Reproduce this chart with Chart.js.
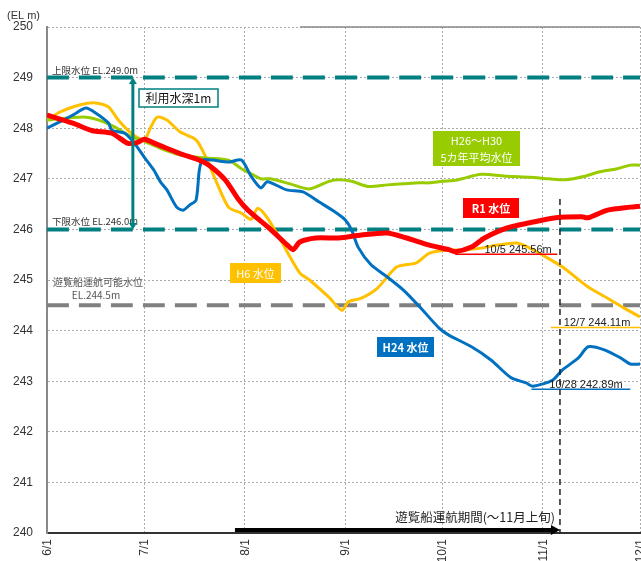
<!DOCTYPE html>
<html lang="ja">
<head>
<meta charset="utf-8">
<title>水位の推移</title>
<script src="https://cdn.jsdelivr.net/npm/chart.js@4.4.1/dist/chart.umd.min.js"></script>
<style>
  html, body { margin: 0; padding: 0; background: #fff; }
</style>
</head>
<body>
<canvas id="levelChart" width="641" height="561"></canvas>
<script>
// x = days counted from 6/1
const monthDays = [0, 30, 61, 92, 122, 153, 183];
const monthLabels = ['6/1', '7/1', '8/1', '9/1', '10/1', '11/1', '12/1'];
const yTicks = [240, 241, 242, 243, 244, 245, 246, 247, 248, 249, 250];

// R1
const r1Days = [0, 8, 14, 20, 25, 28, 30, 34, 41, 47, 50, 55, 59, 62, 69, 74, 76, 78, 83, 90, 97, 105, 111, 118, 124, 126, 131, 135, 142, 149, 157, 165, 167, 173, 180, 183];
const r1Level = [248.26, 248.1, 247.95, 247.9, 247.7, 247.72, 247.78, 247.68, 247.5, 247.37, 247.27, 246.98, 246.6, 246.38, 246.0, 245.7, 245.6, 245.75, 245.83, 245.83, 245.89, 245.93, 245.83, 245.69, 245.6, 245.56, 245.65, 245.83, 246.03, 246.13, 246.23, 246.25, 246.23, 246.38, 246.44, 246.46];

// H26~H30 average
const avgDays = [0, 11, 16, 21, 26, 29, 35, 41, 49, 56, 60, 63, 66, 69, 75, 81, 87, 90, 94, 99, 105, 110, 115, 118, 122, 126, 128, 134, 142, 149, 155, 160, 166, 170, 176, 180, 183];
const avgLevel = [248.16, 248.22, 248.16, 248.02, 247.83, 247.77, 247.6, 247.47, 247.41, 247.37, 247.2, 247.1, 247.0, 247.0, 246.9, 246.8, 246.95, 246.98, 246.95, 246.85, 246.88, 246.9, 246.92, 246.92, 246.95, 246.97, 247.0, 247.09, 247.05, 247.03, 247.0, 246.98, 247.05, 247.13, 247.2, 247.27, 247.27];

// H6
const h6Days = [0, 4, 10, 15, 19, 22, 26, 30, 32, 34, 37, 41, 46, 49, 52, 56, 60, 63, 65, 68, 72, 78, 81, 87, 91, 93, 97, 102, 108, 114, 118, 123, 128, 134, 139, 145, 149, 153, 159, 167, 173, 178, 183];
const h6Level = [248.16, 248.32, 248.46, 248.5, 248.42, 248.16, 247.9, 247.77, 248.02, 248.22, 248.16, 247.93, 247.77, 247.43, 246.98, 246.44, 246.32, 246.2, 246.42, 246.23, 245.8, 245.14, 245.0, 244.66, 244.4, 244.57, 244.64, 244.84, 245.26, 245.34, 245.53, 245.59, 245.59, 245.63, 245.69, 245.73, 245.63, 245.49, 245.26, 244.86, 244.64, 244.45, 244.27];

// H24
const h24Days = [0, 5, 8, 12, 15, 19, 20, 24, 27, 30, 33, 35, 37, 40, 42, 44, 46, 47, 48, 51, 56, 60, 63, 66, 68, 74, 79, 84, 89, 92, 94, 96, 100, 105, 110, 115, 121, 124, 131, 137, 143, 148, 150, 156, 159, 164, 167, 172, 177, 180, 183];
const h24Level = [248.0, 248.16, 248.26, 248.4, 248.3, 248.1, 247.96, 247.9, 247.7, 247.43, 247.17, 246.94, 246.78, 246.44, 246.38, 246.48, 246.58, 247.17, 247.37, 247.37, 247.33, 247.37, 247.05, 246.82, 246.94, 246.78, 246.74, 246.54, 246.34, 246.19, 245.99, 245.65, 245.3, 245.06, 244.8, 244.47, 244.05, 243.91, 243.68, 243.42, 243.08, 242.96, 242.9, 243.02, 243.22, 243.46, 243.68, 243.62, 243.46, 243.34, 243.34];

// reference levels
const upperLimit = 249.0;
const lowerLimit = 246.0;
const boatLimit = 244.5;

// min / value notes
const noteText = ['10/5 245.56m', '12/7 244.11m', '10/28 242.89m'];
const noteLevel = [245.56, 244.11, 242.89];
const noteFrom = [126, 155.5, 149.5];
const noteTo = [157.5, 183, 180];
const noteColor = ['#ff0000', '#ffc000', '#0070c0'];

// boat season (~ early Nov)
const seasonStart = 58;
const seasonEnd = 158.3;

function toPoints(days, levels) {
    return days.map((d, i) => ({ x: d, y: levels[i] }));
}

function flatLine(level) {
    return [{ x: 0, y: level }, { x: 183, y: level }];
}

const JP = '"Noto Sans CJK JP", "Liberation Sans", sans-serif';
const EN = '"Liberation Sans", Arial, sans-serif';

function labelBox(ctx, text, x, y, w, h, bg, font) {
    ctx.fillStyle = bg;
    ctx.fillRect(x, y, w, h);
    ctx.fillStyle = '#fff';
    ctx.font = font;
    ctx.textAlign = 'center';
    ctx.textBaseline = 'middle';
    const lines = text.split('\n');
    const lh = h / lines.length;
    lines.forEach((t, i) => ctx.fillText(t, x + w / 2, y + lh * i + lh / 2 + 1));
}

function arrowHead(ctx, x, y, dir, size) {
    // dir: 'up' | 'down' | 'right'
    ctx.beginPath();
    if (dir === 'up') {
        ctx.moveTo(x, y); ctx.lineTo(x - size, y + size * 1.6); ctx.lineTo(x + size, y + size * 1.6);
    } else if (dir === 'down') {
        ctx.moveTo(x, y); ctx.lineTo(x - size, y - size * 1.6); ctx.lineTo(x + size, y - size * 1.6);
    } else {
        ctx.moveTo(x, y); ctx.lineTo(x - size * 1.8, y - size); ctx.lineTo(x - size * 1.8, y + size);
    }
    ctx.closePath();
    ctx.fill();
}

const notesPlugin = {
    id: 'notes',
    afterDraw(chart) {
        const ctx = chart.ctx;
        const xs = chart.scales.x;
        const ys = chart.scales.y;
        const area = chart.chartArea;
        ctx.save();

        // top frame line
        ctx.strokeStyle = '#888';
        ctx.lineWidth = 1.5;
        ctx.beginPath();
        ctx.moveTo(300, area.top);
        ctx.lineTo(area.right, area.top);
        ctx.stroke();

        // unit
        ctx.fillStyle = '#333';
        ctx.font = '11px ' + EN;
        ctx.textAlign = 'left';
        ctx.textBaseline = 'alphabetic';
        ctx.fillText('(EL m)', 7, 19);

        // x labels, rotated
        ctx.font = '12px ' + EN;
        monthDays.forEach((d, i) => {
            ctx.save();
            ctx.translate(xs.getPixelForValue(d) + 4, area.bottom + 6);
            ctx.rotate(-Math.PI / 2);
            ctx.textAlign = 'right';
            ctx.fillStyle = '#333';
            ctx.fillText(monthLabels[i], 0, 0);
            ctx.restore();
        });

        // reference line captions
        ctx.fillStyle = '#333';
        ctx.font = '9.5px ' + JP;
        ctx.textAlign = 'left';
        ctx.fillText('上限水位 EL.249.0m', 52, ys.getPixelForValue(upperLimit) - 4);
        ctx.fillText('下限水位 EL.246.0m', 52, ys.getPixelForValue(lowerLimit) - 4);
        ctx.fillStyle = '#555';
        ctx.font = '10px ' + JP;
        ctx.textAlign = 'center';
        ctx.fillText('遊覧船運航可能水位', 98, ys.getPixelForValue(boatLimit) - 19);
        ctx.fillText('EL.244.5m', 96, ys.getPixelForValue(boatLimit) - 6);

        // usable depth arrow
        const ax = xs.getPixelForValue(26.5);
        const yTop = ys.getPixelForValue(upperLimit);
        const yBot = ys.getPixelForValue(lowerLimit);
        ctx.strokeStyle = '#008080';
        ctx.fillStyle = '#008080';
        ctx.lineWidth = 3;
        ctx.beginPath();
        ctx.moveTo(ax, yTop + 6);
        ctx.lineTo(ax, yBot - 6);
        ctx.stroke();
        arrowHead(ctx, ax, yTop, 'up', 4);
        arrowHead(ctx, ax, yBot, 'down', 4);

        ctx.fillStyle = '#fff';
        ctx.fillRect(139, 89, 79, 18);
        ctx.strokeStyle = '#008080';
        ctx.lineWidth = 1.5;
        ctx.strokeRect(139, 89, 79, 18);
        ctx.fillStyle = '#111';
        ctx.font = '12px ' + JP;
        ctx.textAlign = 'center';
        ctx.textBaseline = 'middle';
        ctx.fillText('利用水深1m', 178.5, 98.5);

        // series labels
        labelBox(ctx, 'H26～H30\n5カ年平均水位', 433, 131, 87, 35, '#99cc00', '11px ' + JP);
        labelBox(ctx, 'R1 水位', 463, 198, 56, 20, '#ff0000', 'bold 11px ' + JP);
        labelBox(ctx, 'H6 水位', 230, 263, 51, 20, '#ffc000', '11px ' + JP);
        labelBox(ctx, 'H24 水位', 377, 337, 57, 20, '#0070c0', 'bold 11px ' + JP);

        // notes
        ctx.textBaseline = 'alphabetic';
        ctx.textAlign = 'left';
        ctx.font = '11px ' + EN;
        noteText.forEach((t, i) => {
            const ly = ys.getPixelForValue(noteLevel[i]) + 2.5;
            const x0 = xs.getPixelForValue(noteFrom[i]);
            const x1 = xs.getPixelForValue(noteTo[i]);
            ctx.strokeStyle = noteColor[i];
            ctx.lineWidth = 1.5;
            ctx.beginPath();
            ctx.moveTo(x0, ly);
            ctx.lineTo(x1, ly);
            ctx.stroke();
        });
        ctx.fillStyle = '#222';
        ctx.fillText(noteText[0], xs.getPixelForValue(135), ys.getPixelForValue(noteLevel[0]) + 1);
        ctx.fillText(noteText[1], xs.getPixelForValue(159.5), ys.getPixelForValue(noteLevel[1]) + 1);
        ctx.fillText(noteText[2], xs.getPixelForValue(155), ys.getPixelForValue(noteLevel[2]) + 1);

        // boat season marker
        const sx = xs.getPixelForValue(seasonEnd);
        ctx.strokeStyle = '#222';
        ctx.lineWidth = 1.5;
        ctx.setLineDash([6, 4]);
        ctx.beginPath();
        ctx.moveTo(sx, ys.getPixelForValue(246.6));
        ctx.lineTo(sx, area.bottom);
        ctx.stroke();
        ctx.setLineDash([]);

        const by = area.bottom - 3;
        ctx.strokeStyle = '#000';
        ctx.fillStyle = '#000';
        ctx.lineWidth = 4;
        ctx.beginPath();
        ctx.moveTo(xs.getPixelForValue(seasonStart), by);
        ctx.lineTo(sx - 8, by);
        ctx.stroke();
        arrowHead(ctx, sx, by, 'right', 5);

        ctx.font = '12.5px ' + JP;
        ctx.textAlign = 'right';
        ctx.fillStyle = '#222';
        ctx.fillText('遊覧船運航期間(～11月上旬)', sx - 5, by - 8);

        ctx.restore();
    }
};

const teal = '#008080';

new Chart(document.getElementById('levelChart'), {
    type: 'line',
    data: {
        datasets: [
            { label: 'R1', data: toPoints(r1Days, r1Level), borderColor: '#ff0000', borderWidth: 5, order: 0 },
            { label: 'H24', data: toPoints(h24Days, h24Level), borderColor: '#0070c0', borderWidth: 3, order: 1 },
            { label: 'H26-H30', data: toPoints(avgDays, avgLevel), borderColor: '#99cc00', borderWidth: 3, order: 2 },
            { label: 'H6', data: toPoints(h6Days, h6Level), borderColor: '#ffc000', borderWidth: 3, order: 3 },
            { label: 'upper', data: flatLine(upperLimit), borderColor: teal, borderWidth: 4, borderDash: [22, 10], order: 5 },
            { label: 'lower', data: flatLine(lowerLimit), borderColor: teal, borderWidth: 4, borderDash: [22, 10], order: 5 },
            { label: 'boat', data: flatLine(boatLimit), borderColor: '#808080', borderWidth: 4, borderDash: [22, 10], order: 5 }
        ]
    },
    options: {
        responsive: false,
        animation: false,
        events: [],
        elements: {
            point: { radius: 0 },
            line: { tension: 0.25, fill: false, borderCapStyle: 'butt', borderJoinStyle: 'round' }
        },
        layout: { padding: { top: 27, right: 1, left: 0, bottom: 0 } },
        scales: {
            x: {
                type: 'linear',
                min: 0,
                max: 183,
                afterBuildTicks: (scale) => { scale.ticks = monthDays.map(v => ({ value: v })); },
                afterFit: (scale) => { scale.height = 28; },
                ticks: { display: false },
                grid: { color: '#aaa', lineWidth: 1, drawTicks: false },
                border: { color: '#333', width: 2, dash: [2, 2] }
            },
            y: {
                min: 240,
                max: 250,
                afterBuildTicks: (scale) => { scale.ticks = yTicks.map(v => ({ value: v })); },
                afterFit: (scale) => { scale.width = 47; },
                ticks: { padding: 14, color: '#333', font: { family: EN, size: 12 } },
                grid: { color: '#aaa', lineWidth: 1, drawTicks: false },
                border: { color: '#888', width: 2, dash: [2, 2] }
            }
        },
        plugins: {
            legend: { display: false },
            tooltip: { enabled: false }
        }
    },
    plugins: [notesPlugin]
});
</script>
</body>
</html>
